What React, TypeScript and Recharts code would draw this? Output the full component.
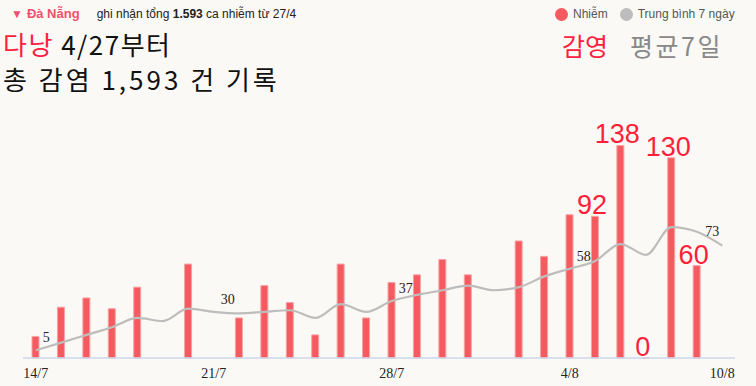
import React from "react";
import { Bar, ComposedChart, LabelList, Line, XAxis, YAxis } from "recharts";

const days = [
  "14/7", "15/7", "16/7", "17/7", "18/7", "19/7", "20/7", "21/7", "22/7", "23/7",
  "24/7", "25/7", "26/7", "27/7", "28/7", "29/7", "30/7", "31/7", "1/8", "2/8",
  "3/8", "4/8", "5/8", "6/8", "7/8", "8/8", "9/8", "10/8",
];

const cases = [
  14, 33, 39, 32, 46, null, 61, null, 26, 47,
  36, 15, 61, 26, 49, 54, 64, 54, null, 76,
  66, 93, 92, 138, 0, 130, 60, null,
];

const avg7 = [
  5, 10, 15, 20, 26, 24, 32, 30, 29, 30,
  31, 26, 35, 30, 37, 41, 44, 47, 44, 46,
  53, 58, 63, 74, 67, 85, 82, 73,
];

const tickDays = ["14/7", "21/7", "28/7", "4/8", "10/8"];
const avgLabelDays = ["14/7", "21/7", "28/7", "4/8", "10/8"];
const bigLabelDays = ["5/8", "6/8", "7/8", "8/8", "9/8"];

const data = days.map((d, i) => ({
  day: d,
  cases: cases[i],
  avg: avg7[i],
  note: bigLabelDays.includes(d) ? String(cases[i]) : null,
  avgNote: avgLabelDays.includes(d) ? avg7[i] : null,
}));

const RED = "#f45a5f";
const serif = "'Liberation Serif', 'DejaVu Serif', serif";
const sans = "'Liberation Sans', Arial, sans-serif";
const kr = "'Noto Sans CJK KR', 'Noto Sans', sans-serif";

const AvgLabel = (props: any) => {
  const { x, y, value, index } = props;
  if (value == null) return null;
  const last = index === days.length - 1;
  return (
    <text x={last ? x - 17 : x + 7} y={last ? y - 10 : y - 8} fontFamily={serif} fontSize={14} fill="#222">
      {value}
    </text>
  );
};

const BigLabel = (props: any) => {
  const { x, y, width, height, value } = props;
  if (value == null) return null;
  return (
    <text
      x={x + width / 2 - 3}
      y={Math.min(y, y + height) - 2}
      textAnchor="middle"
      fontFamily={sans}
      fontSize={27}
      fill="#ff1f3a"
    >
      {value}
    </text>
  );
};

export default function App() {
  return (
    <div
      style={{
        position: "fixed",
        left: 0,
        top: 0,
        width: 756,
        height: 386,
        background: "#fbf9f5",
        overflow: "hidden",
      }}
    >
      <div style={{ position: "absolute", left: 11, top: 6, fontFamily: sans, fontSize: 13, whiteSpace: "nowrap" }}>
        <span style={{ color: "#f0506e", fontWeight: "bold" }}>
          <span style={{ fontSize: 12, marginRight: 4 }}>▼</span>Đà Nẵng
        </span>
        <span style={{ color: "#222", fontSize: 12, marginLeft: 17 }}>
          ghi nhận tổng <b>1.593</b> ca nhiễm từ 27/4
        </span>
      </div>
      <div style={{ position: "absolute", left: 3, top: 27, fontFamily: kr, fontSize: 26, lineHeight: "34px", letterSpacing: 1.5, color: "#111", whiteSpace: "nowrap" }}>
        <div>
          <span style={{ color: "#ff2040" }}>다낭</span> 4/27부터
        </div>
        <div style={{ marginTop: 1, letterSpacing: 3 }}>
          총 감염 1,593 건 기록
        </div>
      </div>
      <div style={{ position: "absolute", left: 555, top: 7, fontFamily: sans, fontSize: 12, color: "#555", whiteSpace: "nowrap", display: "flex", alignItems: "center" }}>
        <span style={{ width: 13, height: 13, borderRadius: "50%", background: RED, display: "inline-block", marginRight: 5 }} />
        Nhiễm
        <span style={{ width: 13, height: 13, borderRadius: "50%", background: "#bdbdbd", display: "inline-block", marginLeft: 12, marginRight: 5 }} />
        Trung bình 7 ngày
      </div>
      <div style={{ position: "absolute", left: 562, top: 28, fontFamily: kr, fontSize: 25, lineHeight: "34px", whiteSpace: "nowrap" }}>
        <span style={{ color: "#ff2040" }}>감영</span>
        <span style={{ color: "#888", marginLeft: 22, letterSpacing: 2.5 }}>평균7일</span>
      </div>
      <div style={{ position: "absolute", left: 0, top: 0 }}>
        <ComposedChart
          width={756}
          height={386}
          data={data}
          margin={{ top: 127, right: 21, bottom: 0, left: 23 }}
          barCategoryGap={0}
        >
          <XAxis
            dataKey="day"
            interval={0}
            tickLine={false}
            axisLine={{ stroke: "#cdd7ea", strokeWidth: 1.5 }}
            tickFormatter={(v: string) => (tickDays.includes(v) ? v : "")}
            tick={{ fontFamily: serif, fontSize: 14, fill: "#222" }}
            tickMargin={4}
            height={28}
          />
          <YAxis hide domain={[0, 150]} />
          <Bar
            dataKey="cases"
            fill={RED}
            stroke="#f8a2a4"
            strokeWidth={1}
            barSize={7}
            minPointSize={0.01}
            isAnimationActive={false}
          >
            <LabelList dataKey="note" content={<BigLabel />} />
          </Bar>
          <Line
            type="monotone"
            dataKey="avg"
            stroke="#bdbdbd"
            strokeWidth={2.2}
            dot={false}
            isAnimationActive={false}
          >
            <LabelList dataKey="avgNote" content={<AvgLabel />} />
          </Line>
        </ComposedChart>
      </div>
    </div>
  );
}
